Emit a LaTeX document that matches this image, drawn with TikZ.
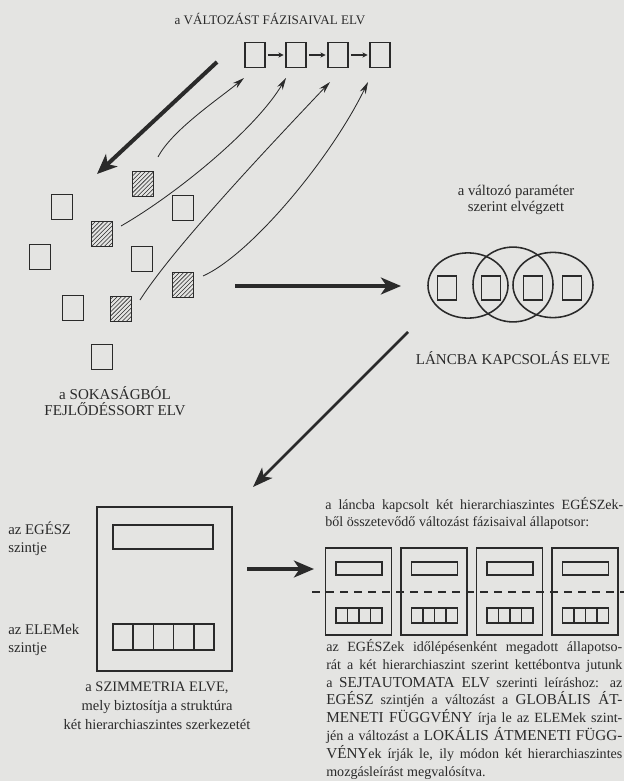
\documentclass[tikz,border=0pt]{standalone}
\usepackage{fontspec}
\setmainfont{Liberation Serif}
\usepackage{tikz}
\usetikzlibrary{arrows.meta, positioning, shapes.geometric, patterns, calc}

\definecolor{paper}{RGB}{228,228,226}
\definecolor{ink}{RGB}{42,42,42}
\newcommand{\bigcaps}[1]{{\fontsize{10.8}{12.7}\selectfont #1}}

\begin{document}
\begin{tikzpicture}[
    x=0.025cm, y=-0.025cm,
    cellbox/.style={rectangle, draw=ink, line width=1.2pt, minimum width=0.5cm, minimum height=0.62cm, inner sep=0pt},
    hatchbox/.style={cellbox, pattern=north east lines, pattern color=ink},
    ringnode/.style={ellipse, draw=ink, line width=1.1pt, minimum width=2cm, minimum height=1.63cm, inner sep=0pt},
    framebox/.style={rectangle, draw=ink, line width=0.9pt, inner sep=0pt},
    barbox/.style={rectangle, draw=ink, line width=1pt, inner sep=0pt},
    txt/.style={text=ink, align=center, inner sep=0pt, font=\fontsize{10.5}{12}\selectfont},
    bigarrow/.style={-{Stealth[length=5mm, width=4.2mm, inset=1.4mm]}, line width=1mm, draw=ink},
    midarrow/.style={-{Stealth[length=5mm, width=3.6mm, inset=1.3mm]}, line width=0.7mm, draw=ink},
    thinarrow/.style={-{Stealth[length=3mm, width=1.6mm]}, line width=0.6pt, draw=ink},
    smallarrow/.style={-{Stealth[length=1.3mm, width=1.3mm]}, line width=0.8pt, draw=ink, shorten <=0.5mm, shorten >=0.4mm},
    dashline/.style={draw=ink, line width=1pt, dash pattern=on 2mm off 1.5mm}
]
\useasboundingbox (0,0) rectangle (624,781);
\fill[paper] (0,0) rectangle (624,781);

% Phase chain
\node (title) [txt, font=\fontsize{9.3}{11}\selectfont] at (270,19) {a VÁLTOZÁST FÁZISAIVAL ELV};
\foreach \i/\x in {1/255,2/296,3/338,4/380}
    \node (c\i) [cellbox] at (\x,55) {};
\foreach \i/\j in {1/2,2/3,3/4}
    \draw [smallarrow] (c\i) -- (c\j);

% Multitude
\foreach \n/\x/\y in {q1/62/207, q2/183/208, q3/40/257, q4/142/259, q5/73/308, q6/102/357}
    \node (\n) [cellbox, minimum width=0.525cm] at (\x,\y) {};
\foreach \n/\x/\y in {h1/143/184, h2/102/234, h3/183/285, h4/121/309}
    \node (\n) [hatchbox, minimum width=0.525cm] at (\x,\y) {};
\node (multi) [txt, font=\fontsize{10.7}{11.5}\selectfont] at (115,401) {a SOKASÁGBÓL\\FEJLŐDÉSSORT ELV};

% Curved arrows into the chain
\draw [thinarrow] ($(h1)+(15,-27)$) .. controls (172,130) and (220,98) .. ($(c1)+(-11,23)$);
\draw [thinarrow] ($(h2)+(19,-8)$) .. controls (175,195) and (255,130) .. ($(c2)+(-10,23)$);
\draw [thinarrow] ($(h4)+(19,-9)$) .. controls (175,245) and (280,135) .. ($(c3)+(-8,27)$);
\draw [thinarrow] ($(h3)+(20,-9)$) .. controls (250,255) and (330,160) .. ($(c4)+(-12,27)$);

% Chaining
\node (param) [txt, font=\fontsize{10.5}{11}\selectfont] at (516,200) {a változó paraméter\\szerint elvégzett};
\node (r1) [ringnode] at (468,285.5) {};
\node (r2) [ringnode, minimum height=1.87cm] at (513,284.5) {};
\node (r3) [ringnode] at (553,285) {};
\foreach \i/\x in {1/447,2/491,3/533,4/572}
    \node (p\i) [cellbox, minimum width=0.475cm, minimum height=0.6cm] at (\x,288) {};
\node (chain) [txt, font=\fontsize{10.7}{12}\selectfont] at (513,358) {LÁNCBA KAPCSOLÁS ELVE};

% Symmetry
\node (szim) [framebox, minimum width=3.375cm, minimum height=4.1cm] at (164.5,589) {};
\node (egesz) [barbox, minimum width=2.5cm, minimum height=0.6cm] at (163,537) {};
\foreach \i in {0,...,4}
    \node (e\i) [barbox, minimum width=0.505cm, minimum height=0.65cm] at (123.1+20.2*\i,637) {};
\node (lab1) [txt, align=left, anchor=west, font=\fontsize{10.5}{12.5}\selectfont] at (8,539) {az EGÉSZ\\szintje};
\node (lab2) [txt, align=left, anchor=west, font=\fontsize{10.5}{12.5}\selectfont] at (8,640) {az ELEMek\\szintje};
\node (szimcap) [txt, font=\fontsize{10.3}{13.5}\selectfont] at (157,706) {a SZIMMETRIA ELVE,\\mely biztosítja a struktúra\\két hierarchiaszintes szerkezetét};

% State sequence
\node (seqtxt) [txt, anchor=north west, align=justify, text width=7.45cm, font=\fontsize{10}{12}\selectfont] at (325,497)
    {a láncba kapcsolt két hierarchiaszintes EGÉSZek-\linebreak ből összetevődő változást fázisaival állapotsor:};
\coordinate (dl) at (312,592);
\coordinate (dr) at (624,592);
\draw [dashline] (dl) -- (dr);
\foreach \i in {0,...,3} {
    \node (b\i) [framebox, minimum width=1.65cm, minimum height=2.175cm] at (358.5+75.5*\i,591.5) {};
    \node (t\i) [barbox, minimum width=1.15cm, minimum height=0.33cm] at (359+75.5*\i,568.5) {};
    \foreach \k in {0,...,3}
        \node (s\i\k) [barbox, line width=0.8pt, minimum width=0.2875cm, minimum height=0.375cm] at (341.75+75.5*\i+11.5*\k,615.5) {};
}
\node (cell) [txt, anchor=north west, align=justify, text width=7.4cm, font=\fontsize{10}{12.7}\selectfont] at (326,639)
    {az EGÉSZek időlépésenként megadott állapotso-\linebreak
     rát a két hierarchiaszint szerint kettébontva jutunk\linebreak
     a \bigcaps{SEJTAUTOMATA ELV} szerinti leíráshoz: az\linebreak
     \bigcaps{EGÉSZ} szintjén a változást a \bigcaps{GLOBÁLIS ÁT-}\linebreak
     \bigcaps{MENETI FÜGGVÉNY} írja le az ELEMek szint-\linebreak
     jén a változást a \bigcaps{LOKÁLIS ÁTMENETI FÜGG-}\linebreak
     \bigcaps{VÉNY}ek írják le, ily módon két hierarchiaszintes\linebreak
     mozgásleírást megvalósítva.};

% Arrows
\coordinate (a1s) at (217,62);
\coordinate (a1e) at (97,174);
\coordinate (a2s) at (235,286);
\coordinate (a2e) at (401,286);
\coordinate (a3s) at (408,332);
\coordinate (a3e) at (253,487);
\coordinate (a4s) at (247,569);
\coordinate (a4e) at (314,569);
\draw [bigarrow] (a1s) -- (a1e);
\draw [bigarrow] (a2s) -- (a2e);
\draw [midarrow] (a3s) -- (a3e);
\draw [bigarrow] (a4s) -- (a4e);

\end{tikzpicture}
\end{document}
